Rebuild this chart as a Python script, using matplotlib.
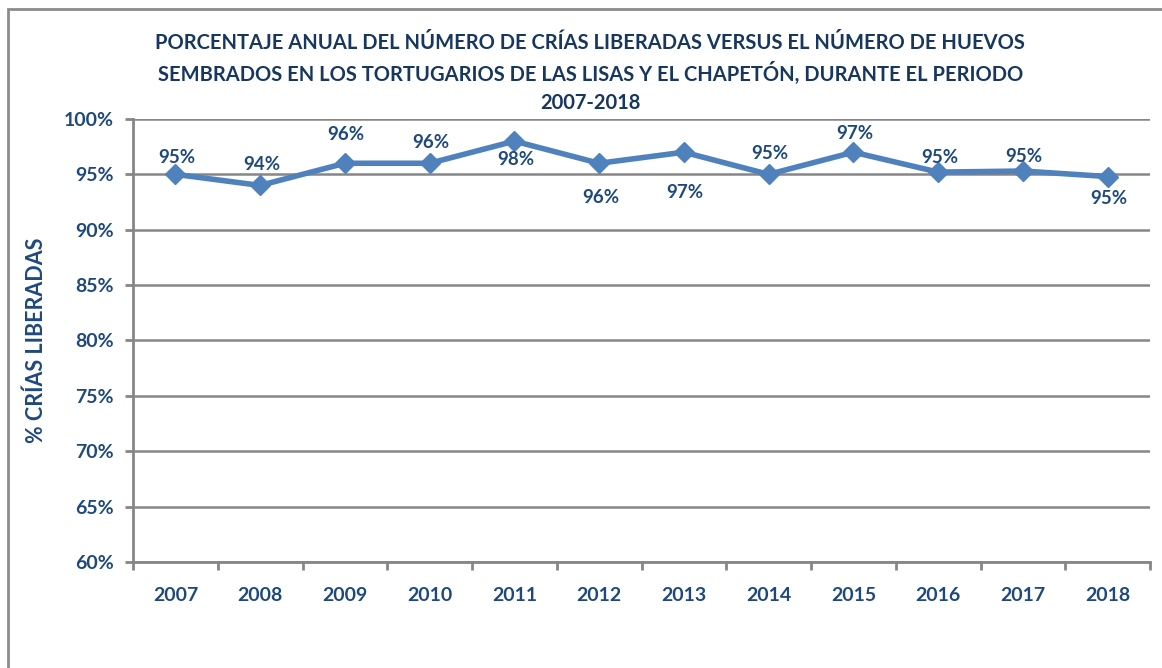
import numpy as np
import matplotlib.pyplot as plt
from matplotlib.patches import Rectangle

# data
years = ['2007', '2008', '2009', '2010', '2011', '2012',
         '2013', '2014', '2015', '2016', '2017', '2018']
pct = [95.0, 94.0, 96.0, 96.0, 98.0, 96.0, 97.0, 95.0, 97.0, 95.2, 95.3, 94.8]
labels = ['95%', '94%', '96%', '96%', '98%', '96%',
          '97%', '95%', '97%', '95%', '95%', '95%']
# vertical shift of each data label from its point, in pixels (+ = above)
label_dy_px = [17, 21, 29, 21, -18, -34, -40, 21, 19, 15, 15, -22]
yticks = [60, 65, 70, 75, 80, 85, 90, 95, 100]

title = ('PORCENTAJE ANUAL DEL NÚMERO DE CRÍAS LIBERADAS VERSUS EL NÚMERO DE HUEVOS\n'
         'SEMBRADOS EN LOS TORTUGARIOS DE LAS LISAS Y EL CHAPETÓN, DURANTE EL PERIODO\n'
         '2007-2018')

txt_col = '#1F497D'
line_col = '#4F81BD'
grid_col = '#868686'
plt.rcParams['font.family'] = ['Lato', 'DejaVu Sans']

fig = plt.figure(figsize=(11.62, 6.68), dpi=100)
ax = fig.add_axes([0.1145, 0.1587, 0.8752, 0.6632])

x = np.arange(len(years))
ax.plot(x, pct, color=line_col, lw=4, marker='D', ms=10, zorder=3)

for xi, v, lab, dy in zip(x, pct, labels, label_dy_px):
    ax.annotate(lab, (xi, v), xytext=(1, dy * 0.72), textcoords='offset points',
                ha='center', va='center', fontsize=13.5, fontweight='bold', color=txt_col)

ax.set_xlim(-0.5, len(years) - 0.5)
ax.set_ylim(60, 100)
ax.set_yticks(yticks)
ax.set_yticklabels([f'{t}%' for t in yticks])
ax.set_xticks(x)
ax.set_xticklabels(years)
ax.set_xticks(np.arange(-0.5, len(years)), minor=True)
ax.tick_params(axis='x', which='major', length=0, pad=18)
ax.tick_params(axis='x', which='minor', length=6, width=2, color=grid_col)
ax.tick_params(axis='y', length=6, width=2, color=grid_col, pad=8)
for t in ax.get_xticklabels() + ax.get_yticklabels():
    t.set_fontsize(14)
    t.set_fontweight('bold')
    t.set_color(txt_col)

ax.grid(axis='y', color=grid_col, lw=1.8)
ax.set_axisbelow(True)
for s in ['top', 'right']:
    ax.spines[s].set_visible(False)
for s in ['left', 'bottom']:
    ax.spines[s].set_color(grid_col)
    ax.spines[s].set_linewidth(2)

ax.set_ylabel('% CRÍAS LIBERADAS', fontsize=15.5, fontweight='bold', color=txt_col, labelpad=12)

fig.text(0.508, 1 - 73 / 668, title, ha='center', va='center', fontsize=14.5, fontweight='bold',
         color='#17375E', linespacing=1.5)

# outer chart frame
fig.patches.append(Rectangle((8 / 1162, -0.1), 1.2, (668 - 9) / 668 + 0.1,
                             transform=fig.transFigure, fill=False,
                             edgecolor='#8C8C8C', lw=2))

fig.savefig('out.png', dpi=100)
